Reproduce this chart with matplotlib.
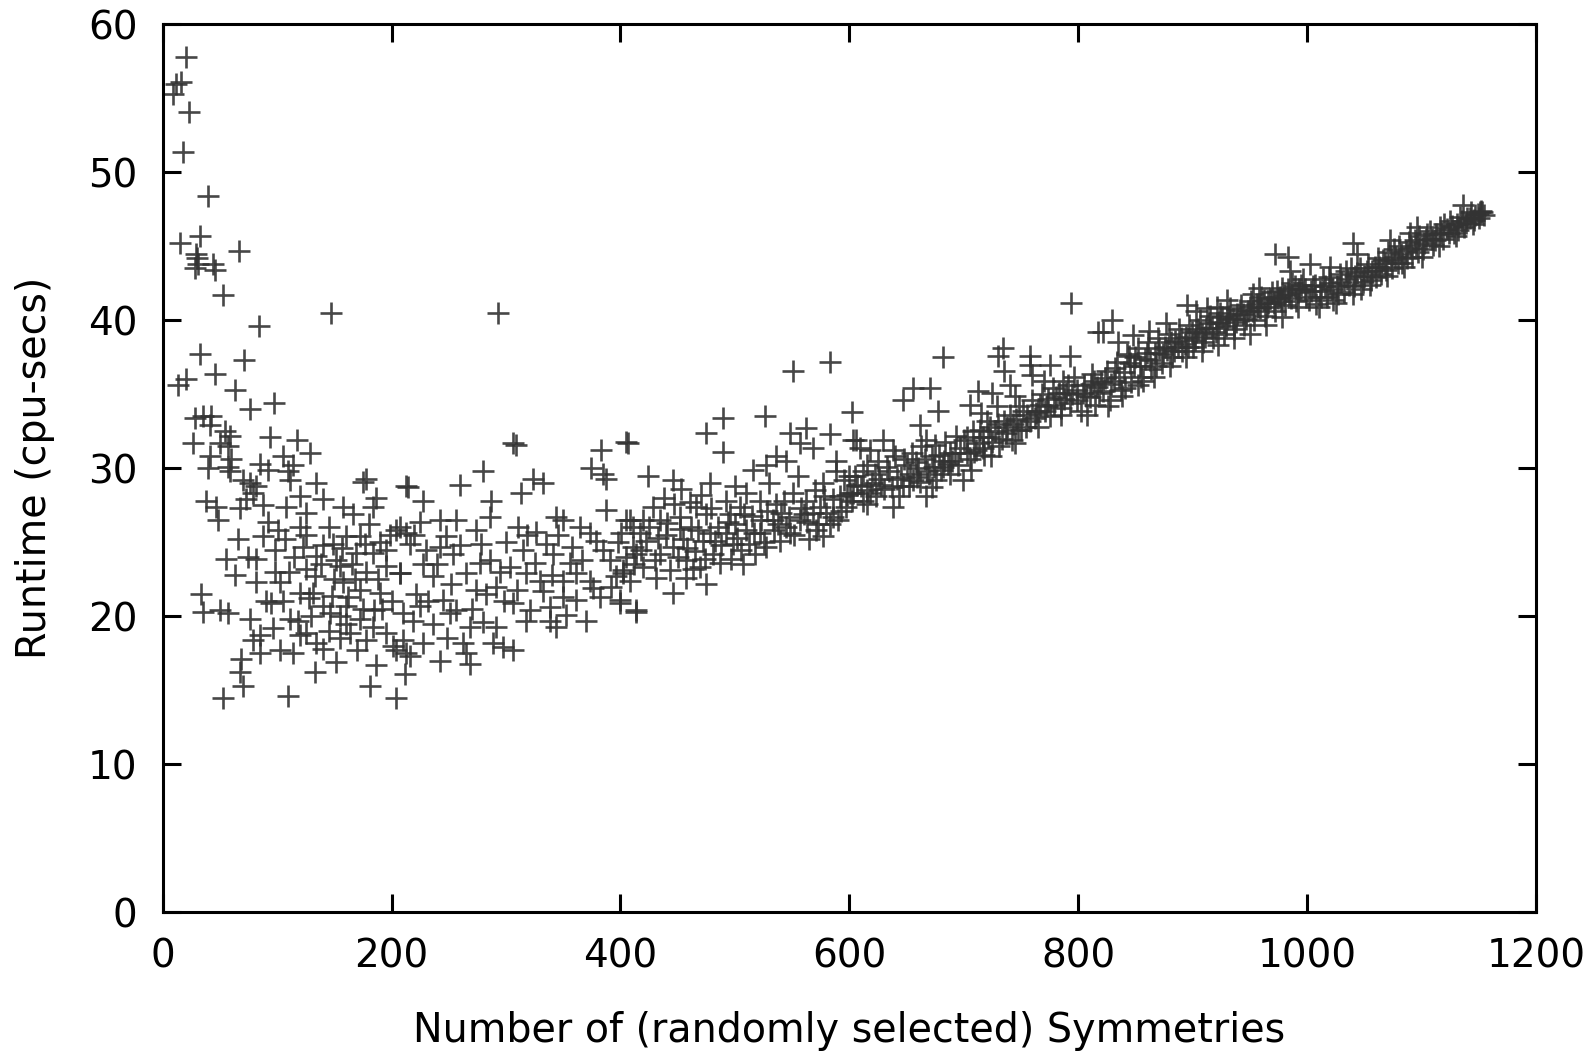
import matplotlib
matplotlib.use("Agg")
import matplotlib.pyplot as plt

# (symmetries, runtime) pairs, grouped by x range
pts_0_215 = [
    (20, 57.8), (16.3, 56.1), (12, 56), (8.7, 55.3), (23, 54.1), (17.7, 51.4),
    (39.6, 48.4), (14.9, 45.2), (32.3, 45.7), (29, 44.5), (31, 43.8), (28, 43.5),
    (30, 44.2), (45.4, 43.4), (44, 43.8), (66.7, 44.7), (52.7, 41.7), (147.4, 40.5),
    (84, 39.6), (32.4, 37.7), (70.8, 37.3), (45.5, 36.4), (20.7, 36), (13.4, 35.6),
    (63.5, 35.3), (76.6, 34), (97, 34.4),
    (28, 33.4), (35.3, 33.5), (42.5, 33.5), (41, 32.9), (54.2, 32.5), (58.6, 32.2),
    (26.5, 31.7), (49.8, 31.7), (57, 31.5),
    (93.5, 32.1), (117.4, 31.9), (129, 31), (41, 30.8), (60, 30.6), (39.6, 30),
    (57.1, 30.1), (58.6, 29.8),
    (84.8, 30.3), (92, 29.9), (105, 30.8), (114, 30.2), (109.6, 29.8), (111, 29.2),
    (70.2, 29.2), (76, 29), (81.9, 28.8), (79, 28.3), (73.2, 27.9), (67.3, 27.3),
    (134.3, 29), (119.7, 28.1), (140, 27.9), (108.1, 27.4),
    (38.2, 27.8), (46.9, 27.4), (48.4, 26.5),
    (178, 29.3), (175, 29.1), (186.7, 28), (213, 28.8),
    (157.6, 27.4), (166.4, 26.9), (183.8, 27.4), (204, 25.8), (213, 25.6),
    (87.7, 25.4), (100.8, 25.8), (106.6, 25.2), (122.7, 24.7), (134.3, 24.1),
    (148.9, 24.9), (160.5, 25.4), (172, 25.4), (169.3, 24.3), (183.8, 24.3),
    (151.8, 23.8), (154.7, 23.4),
    (65.9, 25.2), (55.6, 23.9), (81.9, 23.9), (74.6, 24), (63, 22.8),
    (81.9, 22.3), (102.3, 22.3), (125.6, 23.2), (132.9, 22.7), (131.4, 21.6),
    (157.6, 22.3), (172.2, 21.8), (189.7, 21.6), (178, 23), (195.5, 23.4), (207, 22.9),
    (33.8, 21.5), (90.6, 21), (95, 20.9), (35.3, 20.3), (49.8, 20.4), (57.1, 20.2),
    (119.7, 21.6), (140, 20.7), (146, 20.2), (160.5, 20.7), (154.7, 20),
    (76, 19.8), (96.4, 19.2), (111, 19.8), (125.6, 18.9), (119.7, 18.7),
    (134.3, 18.2), (84.8, 18.7),
    (172.2, 19.8), (163.4, 18.9), (183.8, 19.3), (178, 18.4), (195.5, 18.9),
    (201.3, 18), (213, 17.5),
    (79, 18.4), (84.8, 17.5), (102.3, 17.7), (113.9, 17.5),
    (68.8, 17.1), (67.3, 16.2), (70.2, 15.3), (52.7, 14.5), (109.6, 14.6),
    (132.9, 16.2), (151.8, 16.9), (180.9, 15.3), (186.7, 16.7), (204.2, 14.5),
    (150, 22.5), (165, 23.5), (140, 24.8), (190, 25), (180, 26.2), (200, 21),
    (175, 20.5), (155, 18.5), (130, 20), (145, 19), (120, 26), (195, 24.5),
    (110, 23), (98, 24.5), (88, 27.5), (125, 25.5), (162, 21.3), (188, 22.5),
    (170, 17.7), (140, 17.8),
    (105, 21), (115, 24), (128, 21.2), (138, 23.5), (148, 21.4), (157, 24.6),
    (168, 22.5), (177, 24.9), (185, 20.4), (192, 20.5), (118, 19.7), (98, 23),
    (92, 26.4), (125, 27), (160, 19.5), (145, 26),
]

pts_200_415 = [
    (293.3, 40.5),
    (306.2, 31.7), (309, 31.6), (405.2, 31.8), (383.4, 31.2),
    (214.4, 28.7), (259.6, 28.9), (280, 29.8), (287.2, 27.8), (227.5, 27.8),
    (313.5, 28.3), (323.7, 29.3), (332.4, 29), (374.6, 30), (387.7, 29.3), (384.8, 29.6),
    (224.6, 26.4), (242.1, 26.5), (256.7, 26.5), (207.1, 26), (198.4, 25.5),
    (247.9, 25.4), (274.1, 25.8), (285.8, 26.7),
    (310.6, 26), (326.6, 25.7), (344, 26.7), (349.9, 26.5), (364.4, 26), (373.2, 25.6),
    (379, 25.1), (387.7, 27.2), (405.2, 26.5), (411, 26),
    (230.4, 24.5), (242.1, 24.7), (253.7, 24.2), (215.9, 24.9), (300.4, 25),
    (314.9, 24.5), (341.1, 24.2), (355.7, 23.6), (335.3, 24.9), (390.7, 23.8),
    (402.3, 23.1), (414, 24.2),
    (207.1, 22.9), (227.5, 23.5), (236.3, 22.7), (265.4, 22.9), (277, 23.6),
    (285.8, 23.8), (303.3, 23.3), (317.8, 22.9), (329.5, 22.4), (349.9, 22.4),
    (361.5, 22.9), (373.2, 22.4), (396.5, 22.7), (408.1, 22.4),
    (221.7, 21.5), (245, 21.1), (256.7, 20.4), (274.1, 21.8), (291.6, 22), (282.9, 21.5),
    (306.2, 20.9), (320.7, 20.4), (338.2, 20.6), (349.9, 21.3), (361.5, 21.1),
    (381.9, 21.3), (399.4, 20.9), (414, 20.4),
    (210, 20.2), (218.8, 19.7), (236.3, 19.5), (250.8, 20.2), (268.3, 19.3),
    (291.6, 19.3), (317.8, 19.7), (338.2, 19.7), (344, 19.3), (370.3, 19.7),
    (210, 18.4), (227.5, 18.2), (204.2, 17.7), (215.9, 17.3), (242.1, 17),
    (262.5, 18.2), (265.4, 17.5), (268.3, 16.8), (288.7, 18.2), (297.4, 17.9),
    (306.2, 17.7), (211.5, 16.1),
    (220, 25.5), (232, 21), (240, 23.5), (252, 22.2), (260, 24.8), (270, 20.5),
    (278, 24.9), (295, 23), (298, 21), (310, 21.8), (318, 25.5), (325, 23.6),
    (332, 21.7), (340, 22.8), (345, 25.5), (352, 20.1), (358, 24.7), (366, 23.8),
    (376, 21.9), (385, 24.5), (392, 22), (398, 25), (225, 20.7), (248, 18.5),
    (280, 19.6),
]

pts_400_615 = [
    (550.9, 36.6), (582.9, 37.2), (601.9, 33.8), (406.7, 31.7), (489.7, 33.4),
    (475.1, 32.4), (489.7, 31.1), (526.1, 33.5),
    (424.2, 29.5), (446, 29.2), (453.3, 28.6), (478, 29), (460.6, 27.7),
    (515.9, 29.9), (527.6, 30.2), (536.3, 30.8), (548, 32.4), (562.5, 32.7),
    (568.4, 31.4), (556.7, 31.7), (577.1, 29), (582.9, 32.3), (588.7, 30.5),
    (603.3, 31.9), (609.1, 31.4),
    (428.5, 27.4), (434.4, 26.5), (408.1, 26.5), (400.9, 25.6), (416.9, 25.6),
    (451.8, 26.7), (466.4, 27.4), (475.1, 26.9), (492.6, 27.8), (495.5, 26.9),
    (504.3, 27.4), (510.1, 28.3), (521.7, 27.8), (536.3, 27.6), (550.9, 28.3),
    (562.5, 27.8), (574.2, 27.4), (591.7, 28.1), (603.3, 28.3), (615, 28.5),
    (411, 24.7), (422.7, 25.1), (434.4, 24.2), (446, 24.7), (457.7, 23.8),
    (472.2, 25.1), (481, 24.2), (492.6, 25.6), (498.4, 24.9), (510.1, 25.8),
    (521.7, 25.6), (533.4, 26.5), (545, 26), (556.7, 26.5), (571.3, 25.8),
    (577.1, 25.4), (585.8, 26.7), (597.5, 27.4),
    (402.3, 22.9), (419.8, 23.3), (431.4, 22.6), (443.1, 23.1), (457.7, 22.6),
    (469.3, 23.3), (486.8, 23.6), (507.2, 23.5), (446, 21.6), (475.1, 22.2),
    (414, 20.3), (399.4, 21.1), (527.6, 24.7), (539.2, 25.1),
    (440, 25.5), (455, 25.2), (465, 24.4), (485, 26), (500, 26.2), (515, 26.8),
    (525, 25), (540, 27), (560, 26.9), (570, 28.5), (580, 27), (590, 26.5),
    (595, 29.2), (430, 23.8), (450, 24), (462, 26), (478, 25.6), (505, 24.5),
    (518, 24.2), (548, 25.6), (565, 25.2), (420, 26.5), (438, 28), (470, 28.2),
    (500, 28.8), (530, 29), (555, 29.5), (545, 30.5), (588, 29.8), (600, 29.5),
    (405, 24), (412, 23.5), (418, 24.5), (425, 26), (433, 25.3), (441, 26.3),
    (447, 27.6), (452, 25.9), (458, 24.6), (463, 23.2), (468, 25.8), (474, 23.9),
    (479, 27.3), (483, 25.1), (488, 24.8), (494, 26.4), (497, 23.9), (502, 25.3),
    (508, 26.9), (512, 24.9), (517, 25.6), (523, 26.5), (528, 27.1), (534, 25.8),
    (538, 26.2), (543, 27.8), (547, 26.7), (552, 25.5), (558, 27.3), (563, 26.4),
    (568, 27), (573, 26.2), (578, 28.1), (583, 26.2), (586, 27.9), (593, 27.1),
    (598, 28.2),
]

pts_600_820 = [
    (794.1, 41.2), (817.4, 39.2), (682, 37.5), (730, 37.6), (734.4, 38.1),
    (757.7, 37.6), (757.7, 37), (775.2, 37), (792.7, 37.6),
    (647, 34.6), (655.7, 35.4), (670.3, 35.4), (677.6, 33.9), (661.6, 32.9),
    (667.4, 31.9), (606.2, 31.9), (617.9, 31.2), (629.5, 31.9), (638.3, 31.2),
    (600.4, 28.3), (612, 27.8), (623.7, 28.1), (638.3, 27.4), (647, 28.8),
    (658.7, 29.4), (667.4, 28.1), (676.1, 29.2), (682, 30.1), (687.8, 31),
    (699.4, 29.2), (702.4, 31), (711.1, 31.2), (716.9, 32.1), (722.7, 32.8),
    (728.6, 34.2), (737.3, 32.4), (746, 33.3), (754.8, 32.8), (763.5, 33.7),
    (772.3, 34.2), (781, 34.8), (789.7, 35.1), (798.5, 35.3), (810.1, 34.8), (816, 35.5),
    (605, 29.5), (610, 28.8), (615, 30.2), (620, 29), (625, 30.5), (630, 28.6),
    (635, 29.8), (640, 30.8), (645, 29.4), (650, 30.2), (652, 28.8), (655, 31),
    (660, 30), (663, 31.5), (668, 29.8), (672, 30.8), (675, 31.6), (680, 29.9),
    (684, 31.8), (690, 30.5), (693, 32.2), (697, 31.4), (705, 30.6), (708, 32.5),
    (713, 31.7), (718, 30.9), (720, 33.2), (725, 31.8), (730, 33), (733, 32),
    (740, 33.6), (742, 31.9), (748, 34.2), (750, 32.6), (758, 33.2), (760, 34.6),
    (765, 32.8), (768, 35), (775, 33.5), (778, 35.4), (785, 34.1), (787, 35.9),
    (793, 34.4), (796, 36.2), (802, 33.9), (805, 35.6), (812, 36.4), (815, 34.3),
    (820, 35.8),
    (615, 27.6), (626, 29.3), (643, 28.1), (656, 29.2), (672, 28.7), (688, 29.6),
    (706, 29.9), (724, 30.8), (745, 31.7), (765, 33.9), (785, 33.6), (808, 33.6),
    (705, 34.3), (715, 33.7), (725, 35.1), (740, 35.6), (745, 34.9), (760, 36.3),
    (770, 35.9), (735, 36.6), (712, 35.2),
    (602, 27.8), (607, 28.9), (612, 29.8), (618, 28.3), (622, 29.6), (628, 28.9),
    (633, 30.1), (637, 28.7), (642, 29.3), (648, 30.6), (653, 29.6), (658, 30.4),
    (662, 29.1), (666, 30.6), (670, 29.6), (674, 30.1), (678, 30.9), (683, 30.5),
    (686, 30.3), (692, 31), (695, 30.2), (700, 31.9), (703, 32.1), (709, 31.1),
    (714, 32.6), (717, 31.4), (721, 32.1), (727, 32.5), (731, 31.5), (735, 33.2),
    (738, 32.8), (743, 33), (747, 32.6), (752, 33.9), (755, 33.6), (762, 33.4),
    (767, 34.3), (771, 33.9), (774, 34.7), (779, 34.3), (783, 35.1), (788, 34.7),
    (791, 35.6), (795, 35), (799, 34.6), (804, 35.1), (807, 34.9), (811, 35.7),
    (814, 35.9), (818, 35.1),
]

pts_820_1000 = [
    (829.2, 40), (821.9, 39.2), (894.7, 41), (912.2, 40.8), (921, 40.9),
    (953, 41.8), (976.3, 41.6), (971.9, 44.5), (983.6, 44.3), (844, 37.6),
    (822, 35.2), (825, 36.6), (828, 34.6), (831, 35.9), (834, 37.2), (837, 35.3),
    (840, 36.5), (843, 37.7), (846, 35.8), (849, 36.9), (852, 38.1), (855, 36.2),
    (858, 37.4), (861, 38.5), (864, 36.7), (867, 37.8), (870, 38.8), (873, 37.1),
    (876, 38.2), (879, 39.1), (882, 37.5), (885, 38.6), (888, 39.4), (891, 37.9),
    (894, 38.9), (897, 39.7), (900, 38.2), (903, 39.2), (906, 40), (909, 38.5),
    (912, 39.5), (915, 40.3), (918, 38.8), (921, 39.8), (924, 40.5), (927, 39.1),
    (930, 40.1), (933, 40.8), (936, 39.4), (939, 40.4), (942, 41), (945, 39.7),
    (948, 40.6), (951, 41.3), (954, 40), (957, 40.9), (960, 41.6), (963, 40.3),
    (966, 41.2), (969, 41.9), (972, 40.6), (975, 41.5), (978, 42.2), (981, 41),
    (984, 41.8), (987, 42.5), (990, 41.3), (993, 42.1), (996, 42.8), (999, 41.6),
    (826, 34.2), (838, 34.9), (852, 35.6), (866, 36.2), (880, 36.9), (894, 37.5),
    (908, 37.9), (922, 38.3), (936, 38.8), (950, 39.1), (964, 39.7), (978, 40.2),
    (992, 40.9),
    (835, 38.5), (848, 39), (862, 39.3), (877, 39.8), (903, 40.6), (930, 41.4),
    (958, 42.2), (985, 43.3),
    (823, 36.1), (829, 35.7), (832, 36.8), (836, 36.2), (841, 35.4), (845, 37.1),
    (850, 37.5), (854, 36.9), (857, 35.9), (860, 37.8), (863, 37.3), (868, 36.9),
    (871, 38.1), (874, 37.7), (878, 38), (881, 38.5), (884, 37.9), (887, 38.2),
    (890, 38.8), (893, 38.4), (896, 38.2), (899, 39.2), (902, 38.7), (905, 39.4),
    (908, 39.1), (911, 38.9), (914, 39.8), (917, 39.5), (920, 39.2), (923, 39.9),
    (926, 40.2), (929, 39.6), (932, 40.3), (935, 40.1), (938, 39.9), (941, 40.7),
    (944, 40.4), (947, 40.1), (950, 40.9), (953, 40.6), (956, 41.1), (959, 40.8),
    (962, 41.4), (965, 40.9), (968, 41.5), (971, 41.2), (974, 42), (977, 41.3),
    (980, 41.7), (983, 42.1), (986, 41.5), (989, 42.3), (992, 41.9), (995, 42.4),
    (998, 42.1),
]

pts_1000_1155 = [
    (1002.5, 43.8), (1019.9, 43.6), (1040.3, 45.2), (1043.2, 44.5), (1072.3, 45.4),
    (1095.7, 46.3), (1136.4, 47.8), (1151, 47.3), (1089.8, 45.9),
    (1002, 41.4), (1005, 42.3), (1008, 41.1), (1011, 42), (1014, 42.8), (1017, 41.6),
    (1020, 42.5), (1023, 41.4), (1026, 42.3), (1029, 43.1), (1032, 41.9), (1035, 42.8),
    (1038, 43.5), (1041, 42.3), (1044, 43.2), (1047, 42.1), (1050, 43), (1053, 43.8),
    (1056, 42.7), (1059, 43.6), (1062, 44.2), (1065, 43.1), (1068, 43.9), (1071, 44.6),
    (1074, 43.5), (1077, 44.3), (1080, 45), (1083, 43.9), (1086, 44.7), (1089, 45.3),
    (1092, 44.3), (1095, 45.1), (1098, 45.7), (1101, 44.8), (1104, 45.5), (1107, 46),
    (1110, 45.1), (1113, 45.8), (1116, 46.3), (1119, 45.5), (1122, 46.2), (1125, 46.7),
    (1128, 45.9), (1131, 46.5), (1134, 47), (1137, 46.3), (1140, 46.9), (1143, 47.3),
    (1146, 46.8), (1149, 47.2), (1152, 47.4), (1155, 47.1),
    (1010, 40.9), (1025, 41.2), (1040, 41.8), (1055, 42.4), (1070, 43), (1085, 43.6),
    (1100, 44.3), (1115, 45), (1130, 45.7), (1145, 46.5),
    (1003, 42), (1007, 42.4), (1012, 41.6), (1016, 42.3), (1019, 42.9), (1022, 42.1),
    (1027, 41.8), (1030, 42.6), (1034, 43.3), (1037, 42.4), (1042, 43), (1046, 43.5),
    (1049, 42.6), (1052, 43.3), (1057, 43.3), (1060, 42.9), (1063, 43.6), (1066, 44.1),
    (1069, 43.4), (1073, 44.1), (1076, 44.8), (1079, 43.9), (1082, 44.5), (1087, 44.2),
    (1091, 44.9), (1094, 45.4), (1097, 44.6), (1102, 45.2), (1105, 45.8), (1109, 45.5),
    (1112, 45.4), (1117, 45.9), (1120, 46.5), (1124, 45.9), (1127, 46.4), (1132, 46.1),
    (1135, 46.7), (1139, 46.6), (1142, 46.9), (1147, 47.1), (1150, 46.9), (1153, 47.3),
]

x_ticks = [0, 200, 400, 600, 800, 1000, 1200]
y_ticks = [0, 10, 20, 30, 40, 50, 60]

all_pts = pts_0_215 + pts_200_415 + pts_400_615 + pts_600_820 + pts_820_1000 + pts_1000_1155
xs = [p[0] for p in all_pts]
ys = [p[1] for p in all_pts]

plt.rcParams["font.family"] = "DejaVu Sans"
fig = plt.figure(figsize=(15.95, 10.57), dpi=100)
ax = fig.add_axes([0.102, 0.137, 0.861, 0.840])

ax.plot(xs, ys, linestyle="none", marker="+", markersize=16,
        markeredgewidth=1.9, color="#333333", alpha=0.9)

ax.set_xlim(0, 1200)
ax.set_ylim(0, 60)
ax.set_xticks(x_ticks)
ax.set_yticks(y_ticks)
ax.tick_params(direction="in", length=13, width=2.2, labelsize=28,
               top=True, right=True, pad=18)
for s in ax.spines.values():
    s.set_linewidth(2.2)

ax.set_xlabel("Number of (randomly selected) Symmetries", fontsize=28.5, labelpad=26)
ax.set_ylabel("Runtime (cpu-secs)", fontsize=28.5, labelpad=24)

fig.savefig("out.png", dpi=100)
